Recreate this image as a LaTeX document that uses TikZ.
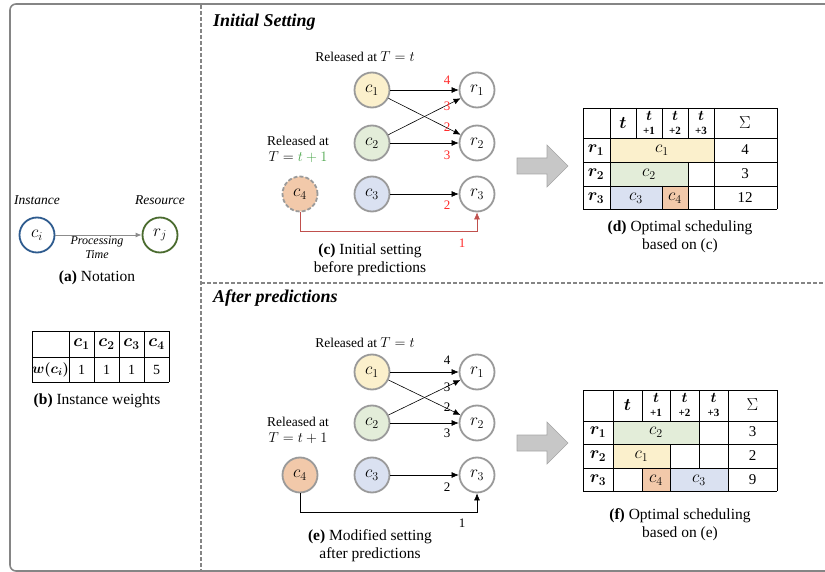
\documentclass[tikz,border=0pt]{standalone}
\usepackage{fontspec}
\setmainfont{Liberation Serif}
\usepackage{amsmath}
\usepackage{bm}
\usepackage{xcolor}
\usetikzlibrary{arrows.meta}
\definecolor{ringgray}{HTML}{9A9A9A}
\definecolor{framegray}{HTML}{858585}
\definecolor{fillyel}{HTML}{FBF0CC}
\definecolor{fillgrn}{HTML}{E3EDD9}
\definecolor{fillblu}{HTML}{DAE1F1}
\definecolor{fillorg}{HTML}{F2C9AA}
\definecolor{inblue}{HTML}{2E5B8E}
\definecolor{resgreen}{HTML}{4A6B2E}
\definecolor{numred}{HTML}{FF2A2A}
\definecolor{linered}{HTML}{C0504D}
\definecolor{relgreen}{HTML}{4CA64C}
\tikzset{
  job/.style={circle, draw=ringgray, line width=1.8pt, minimum size=35pt, inner sep=0pt,
    font=\fontsize{18}{18}\selectfont},
  machine/.style={job, fill=white},
  flow/.style={-{Latex[length=7pt,width=6pt]}, line width=0.6pt},
  wlabel/.style={font=\fontsize{13}{13}\selectfont, inner sep=0pt},
  note/.style={font=\fontsize{13.5}{16}\selectfont, align=center, inner sep=0pt},
  caption/.style={font=\fontsize{15.5}{18}\selectfont, align=center, inner sep=0pt},
  heading/.style={font=\fontsize{18}{18}\selectfont\bfseries\itshape, anchor=west, inner sep=0pt},
  cell/.style={font=\fontsize{17}{17}\selectfont, inner sep=0pt},
  tick/.style={font=\fontsize{11}{11}\selectfont\bfseries, inner sep=0pt},
  grid line/.style={black, line width=0.8pt},
  bigarrow/.style={fill=black!22, draw=black!35, line width=0.6pt},
}

\begin{document}
\begin{tikzpicture}[x=1pt,y=-1pt]
\clip (0,0) rectangle (825,572);
\useasboundingbox (0,0) rectangle (825,572);

\draw[framegray, line width=1.6pt, rounded corners=6pt] (10,4) rectangle (860,571);
\draw[framegray, line width=1.4pt, dash pattern=on 4pt off 2pt] (201,5) -- (201,572);
\draw[framegray, line width=1.4pt, dash pattern=on 4pt off 2pt] (201,283) -- (825,283);

% (a) notation
\node[wlabel, font=\fontsize{13.5}{13.5}\selectfont\itshape] (instlbl) at (37,200) {Instance};
\node[wlabel, font=\fontsize{13.5}{13.5}\selectfont\itshape] (reslbl) at (160,200) {Resource};
\node[job, draw=inblue, fill=white] (ci) at (37,235) {$c_i$};
\node[job, draw=resgreen, fill=white] (rj) at (160,235) {$r_j$};
\draw[-{Latex[length=6pt,width=5pt]}, black!45, line width=0.8pt] (ci) -- (rj);
\node[font=\fontsize{12}{14}\selectfont\itshape, align=center, inner sep=0pt] (ptime) at (97,248) {Processing\\Time};
\node[caption] (capa) at (97,278) {\textbf{(a)} Notation};

% (b) weights
\foreach \y in {331,357,382} \draw[grid line] (32,\y) -- (169,\y);
\foreach \x in {32,69,94,119,144,169} \draw[grid line] (\x,331) -- (\x,382);
\node[cell] (wc1) at (81.5,344) {$\bm{c_1}$};
\node[cell] (wc2) at (106.5,344) {$\bm{c_2}$};
\node[cell] (wc3) at (131.5,344) {$\bm{c_3}$};
\node[cell] (wc4) at (156.5,344) {$\bm{c_4}$};
\node[cell, font=\fontsize{14}{14}\selectfont] (wlab) at (50.5,370) {$\bm{w(c_i)}$};
\node[cell, font=\fontsize{14}{14}\selectfont] (w1) at (81.5,370) {1};
\node[cell, font=\fontsize{14}{14}\selectfont] (w2) at (106.5,370) {1};
\node[cell, font=\fontsize{14}{14}\selectfont] (w3) at (131.5,370) {1};
\node[cell, font=\fontsize{14}{14}\selectfont] (w4) at (156.5,370) {5};
\node[caption] (capb) at (97,401) {\textbf{(b)} Instance weights};

% (c) initial setting
\node[heading] (headc) at (213,22) {Initial Setting};
\node[note] (relc) at (365,57) {Released at $T=t$};
\node[job, fill=fillyel] (ic1) at (372,90) {$c_1$};
\node[job, fill=fillgrn] (ic2) at (372,143) {$c_2$};
\node[job, fill=fillblu] (ic3) at (372,194) {$c_3$};
\node[job, fill=fillorg, dashed, dash pattern=on 4pt off 2pt] (ic4) at (300,194) {$c_4$};
\node[machine] (ir1) at (477,90) {$r_1$};
\node[machine] (ir2) at (477,143) {$r_2$};
\node[machine] (ir3) at (477,194) {$r_3$};
\node[note] (relc4) at (298,149) {Released at\\$T=\textcolor{relgreen}{t+1}$};
\draw[flow] (ic1) -- (ir1);
\draw[flow] (ic1) -- (ir2);
\draw[flow] (ic2) -- (ir1);
\draw[flow] (ic2) -- (ir2);
\draw[flow] (ic3) -- (ir3);
\draw[flow, linered] (ic4.south) -- ++(0,19) -| (ir3.south);
\node[wlabel, numred] (wc11) at (447,80) {4};
\node[wlabel, numred] (wc21) at (447,106) {3};
\node[wlabel, numred] (wc12) at (447,127) {2};
\node[wlabel, numred] (wc22) at (447,155) {3};
\node[wlabel, numred] (wc33) at (447,205) {2};
\node[wlabel, numred] (wc43) at (462,243) {1};
\node[caption] (capc) at (370,260) {\textbf{(c)} Initial setting\\before predictions};

\draw[bigarrow] (517,158) -- (547,158) -- (547,145) -- (568,166) -- (547,187) -- (547,174) -- (517,174) -- cycle;

% (d) schedule
\fill[fillyel] (610,138) rectangle (714,162);
\fill[fillgrn] (610,162) rectangle (688,186);
\fill[fillblu] (610,186) rectangle (662,209);
\fill[fillorg] (662,186) rectangle (688,209);
\foreach \y in {108,138,162,186,209} \draw[grid line] (583,\y) -- (777,\y);
\foreach \x in {583,610,714,777} \draw[grid line] (\x,108) -- (\x,209);
\foreach \x in {636,662,688} \draw[grid line] (\x,108) -- (\x,138);
\draw[grid line] (662,186) -- (662,209);
\draw[grid line] (688,162) -- (688,209);
\node[cell] (dt0) at (623,123) {$\bm{t}$};
\foreach \i/\x in {1/649,2/675,3/701} {
  \node[cell, font=\fontsize{15}{15}\selectfont] (dt\i) at (\x,116) {$\bm{t}$};
  \node[tick] (dp\i) at (\x,131) {+\i};
}
\node[cell, font=\fontsize{19}{19}\selectfont] (dsum) at (745,123) {$\Sigma$};
\node[cell] (dr1) at (596,150) {$\bm{r_1}$};
\node[cell] (dr2) at (596,174) {$\bm{r_2}$};
\node[cell] (dr3) at (596,198) {$\bm{r_3}$};
\node[cell] (dc1) at (662,150) {$c_1$};
\node[cell] (dc2) at (649,174) {$c_2$};
\node[cell] (dc3) at (636,198) {$c_3$};
\node[cell] (dc4) at (675,198) {$c_4$};
\node[cell, font=\fontsize{15}{15}\selectfont] (ds1) at (745,150) {4};
\node[cell, font=\fontsize{15}{15}\selectfont] (ds2) at (745,174) {3};
\node[cell, font=\fontsize{15}{15}\selectfont] (ds3) at (745,198) {12};
\node[caption] (capd) at (680,237) {\textbf{(d)} Optimal scheduling\\based on (c)};

% (e) modified setting
\node[heading] (heade) at (213,298) {After predictions};
\node[note] (rele) at (365,343) {Released at $T=t$};
\node[job, fill=fillyel] (mc1) at (372,372) {$c_1$};
\node[job, fill=fillgrn] (mc2) at (372,423) {$c_2$};
\node[job, fill=fillblu] (mc3) at (372,475) {$c_3$};
\node[job, fill=fillorg] (mc4) at (300,475) {$c_4$};
\node[machine] (mr1) at (477,372) {$r_1$};
\node[machine] (mr2) at (477,423) {$r_2$};
\node[machine] (mr3) at (477,475) {$r_3$};
\node[note] (rele4) at (298,430) {Released at\\$T=t+1$};
\draw[flow] (mc1) -- (mr1);
\draw[flow] (mc1) -- (mr2);
\draw[flow] (mc2) -- (mr1);
\draw[flow] (mc2) -- (mr2);
\draw[flow] (mc3) -- (mr3);
\draw[flow] (mc4.south) -- ++(0,19) -| (mr3.south);
\node[wlabel] (we11) at (447,360) {4};
\node[wlabel] (we21) at (447,387) {3};
\node[wlabel] (we12) at (447,407) {2};
\node[wlabel] (we22) at (447,433) {3};
\node[wlabel] (we33) at (447,487) {2};
\node[wlabel] (we43) at (462,523) {1};
\node[caption] (cape) at (370,546) {\textbf{(e)} Modified setting\\after predictions};

\draw[bigarrow] (517,435) -- (547,435) -- (547,422) -- (568,443) -- (547,464) -- (547,451) -- (517,451) -- cycle;

% (f) schedule
\fill[fillgrn] (613,421) rectangle (699,444);
\fill[fillyel] (613,444) rectangle (670,468);
\fill[fillorg] (642,468) rectangle (670,491);
\fill[fillblu] (670,468) rectangle (728,491);
\foreach \y in {390,421,444,468,491} \draw[grid line] (583,\y) -- (777,\y);
\foreach \x in {583,613,728,777} \draw[grid line] (\x,390) -- (\x,491);
\draw[grid line] (642,390) -- (642,421);
\draw[grid line] (642,468) -- (642,491);
\draw[grid line] (670,390) -- (670,421);
\draw[grid line] (670,444) -- (670,491);
\draw[grid line] (699,390) -- (699,468);
\node[cell] (ft0) at (627.5,405) {$\bm{t}$};
\foreach \i/\x in {1/656,2/684.5,3/713.5} {
  \node[cell, font=\fontsize{15}{15}\selectfont] (ft\i) at (\x,398) {$\bm{t}$};
  \node[tick] (fp\i) at (\x,413) {+\i};
}
\node[cell, font=\fontsize{19}{19}\selectfont] (fsum) at (752.5,405) {$\Sigma$};
\node[cell] (fr1) at (598,432) {$\bm{r_1}$};
\node[cell] (fr2) at (598,456) {$\bm{r_2}$};
\node[cell] (fr3) at (598,480) {$\bm{r_3}$};
\node[cell] (fc2) at (656,432) {$c_2$};
\node[cell] (fc1) at (641.5,456) {$c_1$};
\node[cell] (fc4) at (656,480) {$c_4$};
\node[cell] (fc3) at (699,480) {$c_3$};
\node[cell, font=\fontsize{15}{15}\selectfont] (fs1) at (752.5,432) {3};
\node[cell, font=\fontsize{15}{15}\selectfont] (fs2) at (752.5,456) {2};
\node[cell, font=\fontsize{15}{15}\selectfont] (fs3) at (752.5,480) {9};
\node[caption] (capf) at (680,525) {\textbf{(f)} Optimal scheduling\\based on (e)};
\end{tikzpicture}
\end{document}
